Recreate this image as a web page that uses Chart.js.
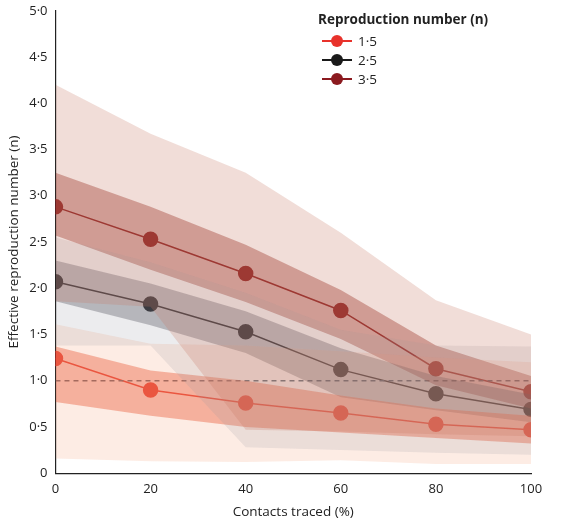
<!DOCTYPE html>
<html><head><meta charset="utf-8">
<script src="https://cdn.jsdelivr.net/npm/chart.js@4"></script>
<style>body{margin:0;background:#fff;font-family:"Open Sans",sans-serif}#w{position:relative;width:571px;height:526px}
#lg{position:absolute;left:318px;top:10px;font-size:13.5px;color:#222}
#lg b{display:block;margin-bottom:3px}
.r{display:flex;align-items:center;height:19px;margin-left:4px}
.m{position:relative;width:30px;height:12px;margin-right:6px}
.m i{position:absolute;left:0;right:0;top:5.5px;height:1.5px}
.m s{position:absolute;left:9px;top:0;width:12px;height:12px;border-radius:50%}
</style></head><body><div id="w"><canvas id="c" width="571" height="526"></canvas>
<div id="lg"><b>Reproduction number (n)</b>
<div class="r"><span class="m"><i style="background:#e8322b"></i><s style="background:#e8322b"></s></span>1·5</div>
<div class="r"><span class="m"><i style="background:#1a1a1a"></i><s style="background:#1a1a1a"></s></span>2·5</div>
<div class="r"><span class="m"><i style="background:#8b1a1f"></i><s style="background:#8b1a1f"></s></span>3·5</div>
</div></div>
<script>
const contacts=[0,20,40,60,80,100];
const r15=[1.24,0.90,0.76,0.65,0.53,0.47];
const r25=[2.07,1.83,1.53,1.12,0.86,0.69];
const r35=[2.88,2.53,2.16,1.76,1.13,0.88];
const r15InnerHi=[1.37,1.11,1.0,0.84,0.70,0.62], r15InnerLo=[0.77,0.62,0.50,0.44,0.38,0.32];
const r15OuterHi=[1.61,1.40,1.38,1.32,1.25,1.20], r15OuterLo=[0.16,0.13,0.12,0.14,0.10,0.10];
const r25InnerHi=[2.30,2.05,1.75,1.35,1.05,0.85], r25InnerLo=[1.86,1.60,1.30,0.82,0.68,0.55];
const r25OuterHi=[2.55,2.28,1.95,1.55,1.38,1.37], r25OuterLo=[1.38,1.38,0.28,0.25,0.22,0.20];
const r35InnerHi=[3.25,2.88,2.47,1.98,1.38,1.05], r35InnerLo=[2.57,2.20,1.85,1.45,0.95,0.70];
const r35OuterHi=[4.20,3.67,3.25,2.60,1.87,1.50], r35OuterLo=[1.86,1.80,0.47,0.45,0.42,0.40];
const yTicks=[0,0.5,1,1.5,2,2.5,3,3.5,4,4.5,5];
const pts=a=>a.map((v,i)=>({x:contacts[i],y:v}));
const band=(hi,lo,col)=>[{data:pts(hi),fill:'+1',backgroundColor:col,borderWidth:0,pointRadius:0,tension:0},{data:pts(lo),fill:false,borderWidth:0,pointRadius:0}];
const line=(d,c)=>({data:pts(d),borderColor:c,backgroundColor:c,borderWidth:1.5,pointRadius:7,pointHoverRadius:7,fill:false});
const ds=[
 ...band(r35OuterHi,r35OuterLo,'rgba(200,120,100,0.25)'),
 ...band(r25OuterHi,r25OuterLo,'rgba(150,150,160,0.18)'),
 ...band(r15OuterHi,r15OuterLo,'rgba(245,160,120,0.2)'),
 ...band(r15InnerHi,r15InnerLo,'rgba(232,90,60,0.45)'),
 ...band(r25InnerHi,r25InnerLo,'rgba(70,70,80,0.35)'),
 ...band(r35InnerHi,r35InnerLo,'rgba(150,50,40,0.42)'),
 {data:[{x:0,y:1},{x:100,y:1}],borderColor:'#4a6070',borderDash:[5,4],borderWidth:1.5,pointRadius:0,fill:false},
 line(r15,'#e8322b'),line(r25,'#1a1a1a'),line(r35,'#8b1a1f')];
const fmt=v=>v===0?'0':v.toFixed(1).replace('.','·');
new Chart(document.getElementById('c'),{type:'line',data:{datasets:ds},
options:{responsive:false,animation:false,layout:{padding:{top:6,right:40,left:2,bottom:2}},
plugins:{legend:{display:false},tooltip:{enabled:false}},
scales:{x:{type:'linear',min:0,max:100,afterBuildTicks:s=>{s.ticks=contacts.map(v=>({value:v}))},grid:{display:false,drawTicks:true,tickLength:5,tickColor:'#222'},border:{color:'#222',width:1.2},ticks:{color:'#222',font:{family:'Open Sans',size:13}},title:{display:true,text:'Contacts traced (%)',color:'#222',font:{family:'Open Sans',size:13.5}}},
y:{min:0,max:5,afterBuildTicks:s=>{s.ticks=yTicks.map(v=>({value:v}))},grid:{display:false,tickLength:5,tickColor:'#222'},border:{color:'#222',width:1.2},ticks:{color:'#222',callback:fmt,font:{family:'Open Sans',size:13}},title:{display:true,text:'Effective reproduction number (n)',color:'#222',font:{family:'Open Sans',size:13.5}}}}}});
</script></body></html>
